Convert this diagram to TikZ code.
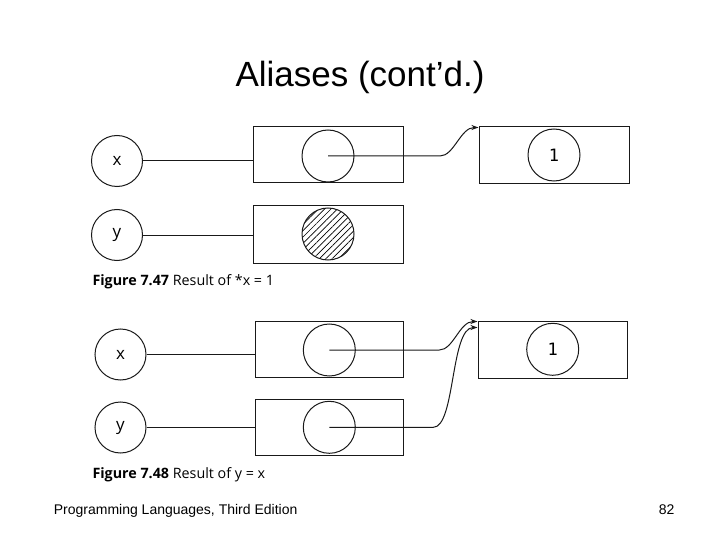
\documentclass[tikz,border=0pt]{standalone}
\usepackage{fontspec}
\setmainfont{Liberation Sans}
\newfontfamily\figfont{Open Sans}
\newfontfamily\valfont{DejaVu Sans Mono}
\usetikzlibrary{arrows.meta,patterns.meta}

\begin{document}
\begin{tikzpicture}[x=1pt,y=-1pt,line width=1pt,draw=black!90,
  var/.style={draw,circle,minimum size=51pt,inner sep=0pt,font=\figfont\fontsize{17}{17}\selectfont},
  cell/.style={draw,rectangle,minimum width=150pt,minimum height=56pt,inner sep=0pt},
  ptr/.style={draw,circle,minimum size=52pt,inner sep=0pt},
  val/.style={draw,circle,minimum size=52pt,inner sep=0pt,font=\valfont\fontsize{17}{17}\selectfont},
  link/.style={-{Stealth[length=7pt,width=5pt]}},
  figcap/.style={anchor=base west,inner sep=0pt,font=\figfont\fontsize{14.3}{14.3}\selectfont}]
\useasboundingbox (0,0) rectangle (720,540);

\node[anchor=base,font=\fontsize{35}{35}\selectfont] (title) at (360,87) {Aliases (cont’d.)};

\node[var] (x1) at (117,161) {x};
\node[var] (y1) at (117,235) {y};
\node[cell] (ax1) at (328,155) {};
\node[cell,minimum height=57pt] (ay1) at (328,234.5) {};
\node[ptr] (px1) at (328,156) {};
\node[ptr,pattern={Lines[angle=45,distance=4.5pt,line width=0.7pt]}] (py1) at (328,234) {};
\node[cell,minimum height=57pt] (c1) at (554,155.5) {};
\node[val] (v1) at (554,155) {1};
\draw (x1.east) -- (x1.east -| ax1.west);
\draw (y1.east) -- (y1.east -| ay1.west);
\draw[link] (px1.center) -- ++(112,0) .. controls +(14,0) and +(-18,0) .. ([yshift=-1pt]c1.north west);
\node[figcap] (cap1) at (92,285) {\textbf{Figure 7.47} Result of *x = 1};

\node[var] (x2) at (120.5,354.5) {x};
\node[var] (y2) at (120.5,427.5) {y};
\node[cell,minimum width=148pt] (ax2) at (329,349.5) {};
\node[cell,minimum width=148pt] (ay2) at (329,427) {};
\node[ptr] (px2) at (329.3,350) {};
\node[ptr] (py2) at (329.3,427.3) {};
\node[cell,minimum width=149pt,minimum height=57pt] (c2) at (552.5,349.5) {};
\node[val] (v2) at (552.7,349.3) {1};
\draw (x2.east) -- (x2.east -| ax2.west);
\draw (y2.east) -- (y2.east -| ay2.west);
\draw[link] (px2.center) -- ++(110,0) .. controls +(14,0) and +(-18,0) .. ([yshift=-1pt]c2.north west);
\draw[link] (py2.center) -- ++(104,0) .. controls +(22,0) and +(-27,0) .. ([yshift=-7pt]c2.north west);
\node[figcap] (cap2) at (92,478) {\textbf{Figure 7.48} Result of y = x};

\node[anchor=base west,font=\fontsize{14}{14}\selectfont] (foot) at (50,514) {Programming Languages, Third Edition};
\node[anchor=base west,font=\fontsize{14}{14}\selectfont] (page) at (655,514) {82};
\end{tikzpicture}
\end{document}
